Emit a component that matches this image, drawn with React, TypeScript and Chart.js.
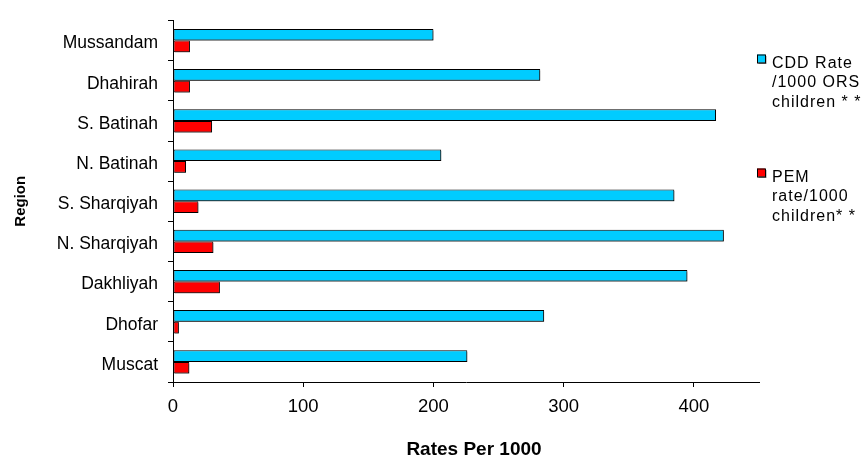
import React, { useEffect, useRef } from 'react';
import { Chart, registerables } from 'chart.js';

Chart.register(...registerables);

// ---- data ----
const regions = ['Mussandam', 'Dhahirah', 'S. Batinah', 'N. Batinah', 'S. Sharqiyah', 'N. Sharqiyah', 'Dakhliyah', 'Dhofar', 'Muscat'];
const cddRates = [200, 282, 417, 206, 385, 423, 395, 285, 226];
const pemRates = [13, 13, 30, 10, 19.5, 31, 36, 4.5, 12.5];
const xTickValues = [0, 100, 200, 300, 400];
const xMax = 450;
const seriesNames = ['CDD Rate /1000 ORS children * *', 'PEM rate/1000 children* *'];
const legendLines = [
  ['CDD Rate', '/1000 ORS', 'children * *'],
  ['PEM', 'rate/1000', 'children* *'],
];
const xTitle = 'Rates Per 1000';
const yTitle = 'Region';

const CYAN = '#00CCFF';
const RED = '#FF0000';
const FONT = '"Liberation Sans", Arial, sans-serif';

const decorPlugin = {
  id: 'decor',
  beforeDatasetsDraw(chart: any) {
    const ctx = chart.ctx;
    ctx.save();
    ctx.shadowColor = 'rgba(0,0,0,0.45)';
    ctx.shadowOffsetX = 1.5;
    ctx.shadowOffsetY = 1.5;
    ctx.shadowBlur = 0;
  },
  afterDatasetsDraw(chart: any) {
    chart.ctx.restore();
  },
  afterDraw(chart: any) {
    const ctx = chart.ctx;
    const area = chart.chartArea;
    // legend
    const colors = [CYAN, RED];
    const firstBaselines = [area.top + 47, area.top + 161];
    legendLines.forEach((lines, i) => {
      const base = firstBaselines[i];
      const bx = area.right - 2;
      const by = base - 13;
      ctx.save();
      ctx.shadowColor = 'rgba(0,0,0,0.45)';
      ctx.shadowOffsetX = 1.5;
      ctx.shadowOffsetY = 1.5;
      ctx.fillStyle = colors[i];
      ctx.fillRect(bx, by, 8, 8);
      ctx.restore();
      ctx.save();
      ctx.strokeStyle = '#000';
      ctx.lineWidth = 1;
      ctx.strokeRect(bx + 0.5, by + 0.5, 8, 8);
      ctx.restore();
      ctx.save();
      ctx.fillStyle = '#000';
      ctx.font = `16px ${FONT}`;
      try { (ctx as any).letterSpacing = '1px'; } catch (e) {}
      ctx.textAlign = 'left';
      ctx.textBaseline = 'alphabetic';
      lines.forEach((t, j) => ctx.fillText(t, area.right + 13, base + j * 19.5));
      ctx.restore();
    });
    // axis titles
    ctx.save();
    ctx.fillStyle = '#000';
    ctx.font = `bold 19px ${FONT}`;
    ctx.textAlign = 'center';
    ctx.textBaseline = 'middle';
    ctx.fillText(xTitle, (area.left + area.right) / 2 + 8, 450);
    ctx.restore();
    ctx.save();
    ctx.fillStyle = '#000';
    ctx.font = `bold 15px ${FONT}`;
    ctx.textAlign = 'center';
    ctx.textBaseline = 'middle';
    ctx.translate(21, (area.top + area.bottom) / 2);
    ctx.rotate(-Math.PI / 2);
    ctx.fillText(yTitle, 0, 0);
    ctx.restore();
  },
};

export default function App() {
  const ref = useRef<HTMLCanvasElement | null>(null);
  useEffect(() => {
    if (!ref.current) return;
    const chart = new Chart(ref.current, {
      type: 'bar',
      data: {
        labels: regions,
        datasets: [
          {
            label: seriesNames[0],
            data: cddRates,
            backgroundColor: CYAN,
            borderColor: '#000',
            borderWidth: 1,
            borderSkipped: false,
            barPercentage: 1,
            categoryPercentage: 0.58,
          },
          {
            label: seriesNames[1],
            data: pemRates,
            backgroundColor: RED,
            borderColor: '#000',
            borderWidth: 1,
            borderSkipped: false,
            barPercentage: 1,
            categoryPercentage: 0.58,
          },
        ],
      },
      options: {
        indexAxis: 'y',
        animation: false,
        responsive: false,
        layout: { padding: { top: 17, right: 107, left: 0, bottom: 0 } },
        plugins: {
          legend: { display: false },
          tooltip: { enabled: false },
          title: { display: false },
        },
        scales: {
          x: {
            type: 'linear',
            min: 0,
            max: xMax,
            afterBuildTicks: (scale: any) => {
              scale.ticks = xTickValues.map((v) => ({ value: v }));
            },
            afterFit: (scale: any) => {
              scale.height = 88;
            },
            grid: {
              display: true,
              drawOnChartArea: false,
              drawTicks: true,
              tickLength: 5,
              color: '#000',
            },
            border: { display: true, color: '#000', width: 1 },
            ticks: {
              color: '#000',
              padding: 9,
              font: { family: FONT, size: 18.5 },
              maxRotation: 0,
            },
          },
          y: {
            type: 'category',
            afterFit: (scale: any) => {
              scale.width = 173;
            },
            grid: {
              display: true,
              offset: true,
              drawOnChartArea: false,
              drawTicks: true,
              tickLength: 5,
              color: '#000',
            },
            border: { display: true, color: '#000', width: 1 },
            ticks: {
              color: '#000',
              padding: 10,
              labelOffset: 3,
              font: { family: FONT, size: 17.5 },
            },
          },
        },
      },
      plugins: [decorPlugin],
    });
    return () => chart.destroy();
  }, []);
  return (
    <div style={{ position: 'absolute', left: 0, top: 0, width: 866, height: 470, background: '#fff' }}>
      <canvas ref={ref} width={866} height={470} style={{ display: 'block' }} />
    </div>
  );
}
